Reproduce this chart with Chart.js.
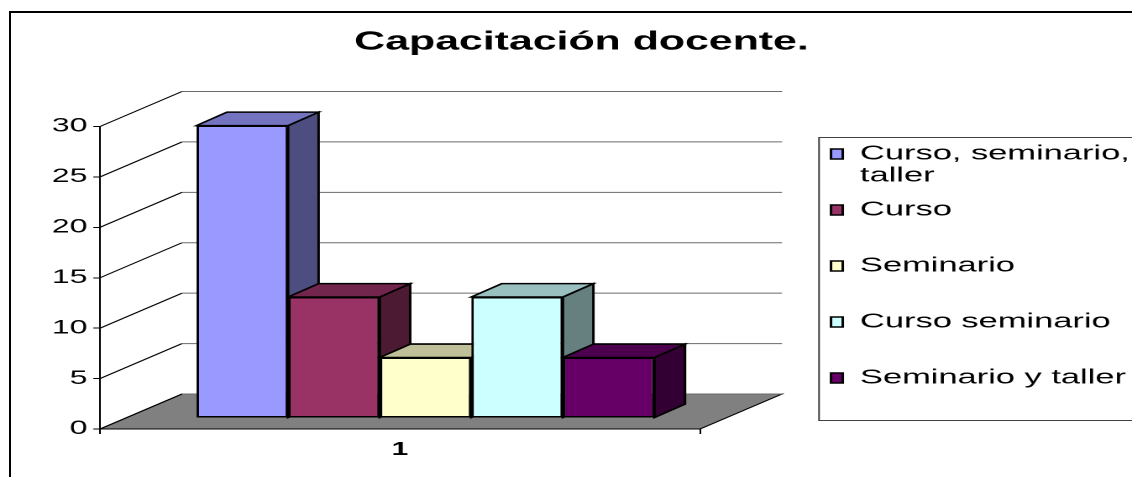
<!DOCTYPE html>
<html>
<head>
<meta charset="utf-8">
<script src="https://cdn.jsdelivr.net/npm/chart.js@4.4.1/dist/chart.umd.min.js"></script>
<style>
html,body{margin:0;padding:0;background:#fff;overflow:hidden;width:1132px;height:477px;}
#frame{position:absolute;left:9px;top:11px;width:2000px;height:2000px;border:2px solid #000;}
#wrap{position:absolute;left:0;top:0;width:674px;height:477px;transform:scaleX(1.6795252);transform-origin:0 0;}
</style>
</head>
<body>
<div id="frame"></div>
<div id="wrap"><canvas id="c" width="674" height="477"></canvas></div>
<script>
// ---- data ----
const categories = ['1'];
const seriesNames = [
  ['Curso, seminario,', 'taller'],
  ['Curso', ''],
  ['Seminario', ''],
  ['Curso seminario', ''],
  ['Seminario y taller', '']
];
const seriesValues = [29, 12, 6, 12, 6];
const yMin = 0, yMax = 30, yStep = 5;
const chartTitle = 'Capacitación docente.';

// ---- styles ----
const frontColors = ['#9999FF', '#993366', '#FFFFCC', '#CCFFFF', '#660066'];
const topColors   = ['#7373BF', '#73264D', '#BFBF99', '#99BFBF', '#4D004D'];
const sideColors  = ['#4D4D80', '#4D1A33', '#808066', '#668080', '#330033'];
const FONT = "'Liberation Sans', Arial, sans-serif";

// ---- geometry (reference pixels converted to the unstretched canvas) ----
const W = 674, S = 1132 / W;
const PLOT_L = 100 / S, PLOT_R = 700 / S;
const PAD_L = 2 * 581.5 / S - W;
const Y_W = PLOT_L - PAD_L;
const LEG_LEFT = 831 / S - 12;
const LEG_W = W - LEG_LEFT;
const GAP_W = LEG_LEFT - PLOT_R;
const WALL_DX = 82 / S, WALL_DY = -35;
const BAR_DX = 25.5 / S, BAR_DY = -11;
const DEP_DX = 30.5 / S, DEP_DY = -13.4;
const TITLE_SIZE = 25.5, TITLE_LH = 1.2;
const TITLE_PT = 42.5 - TITLE_SIZE * TITLE_LH / 2;
const TITLE_PB = 126.5 - TITLE_PT - TITLE_SIZE * TITLE_LH;

function poly(ctx, pts, fill) {
  ctx.beginPath();
  ctx.moveTo(pts[0][0], pts[0][1]);
  for (let k = 1; k < pts.length; k++) ctx.lineTo(pts[k][0], pts[k][1]);
  ctx.closePath();
  ctx.fillStyle = fill;
  ctx.fill();
  ctx.stroke();
}

const threeD = {
  id: 'threeD',
  beforeDatasetsDraw(chart) {
    const {ctx, chartArea: a, scales: {y}} = chart;
    ctx.save();
    ctx.lineWidth = 1;
    // floor
    ctx.strokeStyle = '#000';
    poly(ctx, [[a.left, a.bottom], [a.right, a.bottom], [a.right + WALL_DX, a.bottom + WALL_DY], [a.left + WALL_DX, a.bottom + WALL_DY]], '#808080');
    // walls gridlines
    y.ticks.forEach(t => {
      const py = y.getPixelForValue(t.value);
      ctx.beginPath();
      ctx.moveTo(a.left + WALL_DX, py + WALL_DY);
      ctx.lineTo(a.right + WALL_DX, py + WALL_DY);
      ctx.strokeStyle = '#6a6a6a';
      ctx.stroke();
      ctx.beginPath();
      ctx.moveTo(a.left, py);
      ctx.lineTo(a.left + WALL_DX, py + WALL_DY);
      ctx.strokeStyle = '#000';
      ctx.stroke();
    });
    // bar sides and tops
    ctx.lineWidth = 1.5;
    ctx.strokeStyle = '#000';
    chart.data.datasets.forEach((ds, i) => {
      const meta = chart.getDatasetMeta(i);
      meta.data.forEach(el => {
        const p = el.getProps(['x', 'y', 'base', 'width'], true);
        const L = p.x - p.width / 2 + BAR_DX, R = p.x + p.width / 2 + BAR_DX;
        const T = Math.min(p.y, p.base) + BAR_DY, B = Math.max(p.y, p.base) + BAR_DY;
        poly(ctx, [[R, T], [R + DEP_DX, T + DEP_DY], [R + DEP_DX, B + DEP_DY], [R, B]], sideColors[i]);
        poly(ctx, [[L, T], [R, T], [R + DEP_DX, T + DEP_DY], [L + DEP_DX, T + DEP_DY]], topColors[i]);
      });
    });
    ctx.restore();
    ctx.save();
    ctx.translate(BAR_DX, BAR_DY);
  },
  afterDatasetsDraw(chart) {
    chart.ctx.restore();
  }
};

const legendFrame = {
  id: 'legendFrame',
  afterDraw(chart) {
    const {ctx} = chart;
    const lg = chart.legend;
    const left = lg.left + 12 - 12 / S;
    ctx.save();
    ctx.strokeStyle = '#404040';
    ctx.lineWidth = 1;
    ctx.strokeRect(left, 137.5, W + 10 - left, 420.5 - 137.5);
    ctx.restore();
  }
};

new Chart(document.getElementById('c'), {
  type: 'bar',
  data: {
    labels: categories,
    datasets: seriesNames.map((n, i) => ({
      label: n,
      data: [seriesValues[i]],
      backgroundColor: frontColors[i],
      borderColor: '#000',
      borderWidth: 1.5,
      borderSkipped: false
    }))
  },
  options: {
    responsive: false,
    animation: false,
    devicePixelRatio: 2,
    layout: {padding: {left: PAD_L, top: 0, right: 0, bottom: 0}},
    datasets: {bar: {categoryPercentage: 458 / 600, barPercentage: 1, clip: false}},
    plugins: {
      title: {
        display: true, text: chartTitle, color: '#000',
        font: {family: FONT, size: TITLE_SIZE, weight: 'bold', lineHeight: TITLE_LH},
        padding: {top: TITLE_PT, bottom: TITLE_PB}
      },
      legend: {
        position: 'right', align: 'center', fullSize: false, maxWidth: LEG_W,
        labels: {color: '#000', font: {family: FONT, size: 20.5, lineHeight: '22px'}, boxWidth: 7, boxHeight: 10, padding: 12}
      },
      tooltip: {enabled: false}
    },
    scales: {
      x: {
        grid: {display: true, drawOnChartArea: false, drawTicks: true, tickLength: 5, color: '#000', offset: true},
        border: {display: false},
        ticks: {color: '#000', font: {family: FONT, size: 18, weight: 'bold'}, padding: 5},
        afterFit: s => { s.height = 48; }
      },
      y: {
        min: yMin, max: yMax,
        ticks: {stepSize: yStep, color: '#000', font: {family: FONT, size: 19}, padding: 3.5},
        grid: {drawOnChartArea: false, drawTicks: true, tickLength: 4, color: '#000'},
        border: {display: true, color: '#000', width: 1},
        afterFit: s => { s.width = Y_W; }
      },
      gap: {
        type: 'linear', position: 'right', display: true,
        grid: {display: false}, ticks: {display: false}, border: {display: false},
        afterFit: s => { s.width = GAP_W; }
      }
    }
  },
  plugins: [threeD, legendFrame]
});
</script>
</body>
</html>
